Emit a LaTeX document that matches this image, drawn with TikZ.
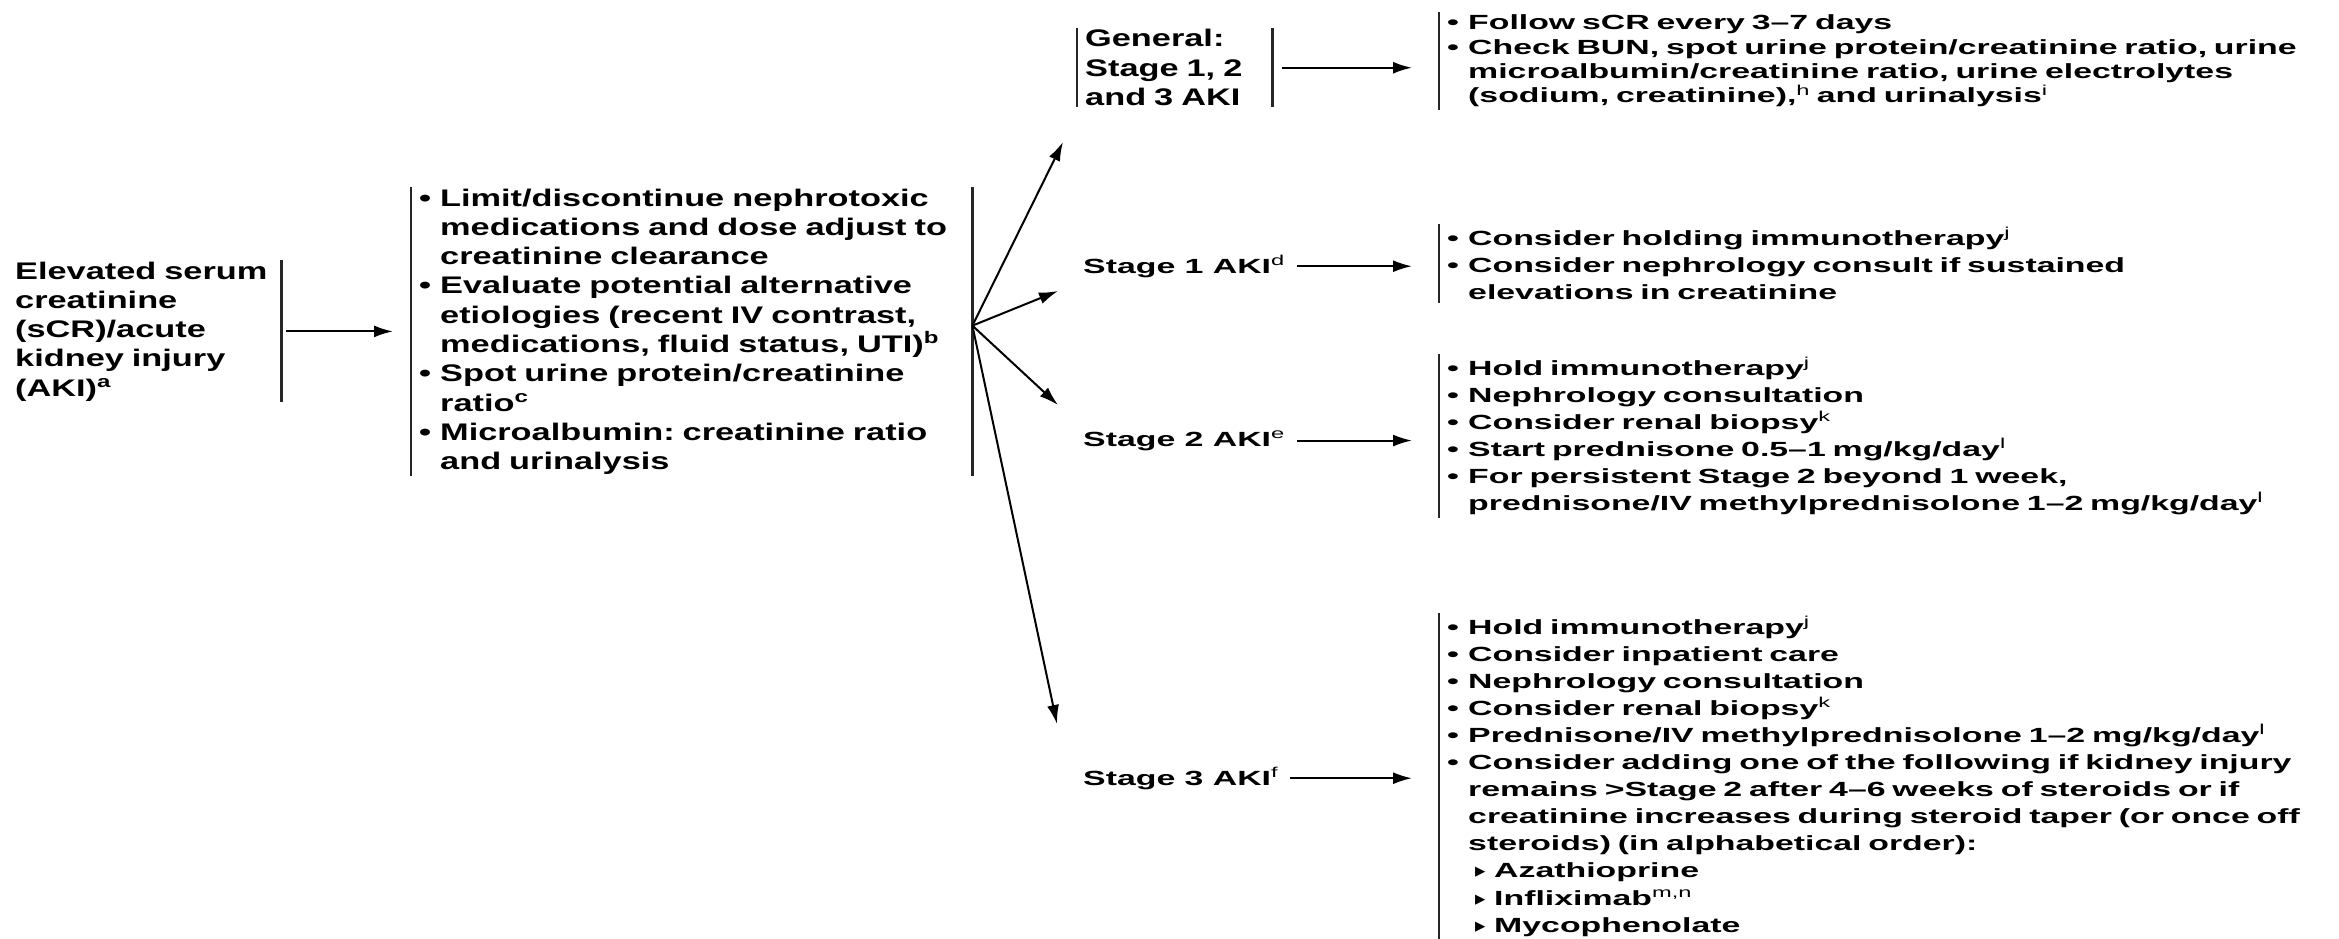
\documentclass[tikz,border=0pt]{standalone}
\usepackage{fontspec}
\setmainfont{Liberation Sans}
\newfontfamily\heavyfont{Liberation Sans}[FakeStretch=1.43]
\newfontfamily\listfont{Liberation Sans}[FakeStretch=1.65]
\newfontfamily\symfont{DejaVu Sans}
\usetikzlibrary{arrows.meta}
\frenchspacing
\newcommand\bul{\hangindent=21pt\hangafter=1\leavevmode\makebox[21pt][l]{\textbullet}}
\newcommand\tri{\hangindent=47pt\hangafter=1\leavevmode\hspace*{28pt}\makebox[19pt][l]{\symfont ▸}}
\newcommand\sups[1]{\textsuperscript{\mdseries #1}}
\tikzset{heavy/.style={font=\heavyfont\bfseries\fontsize{24pt}{29.3pt}\selectfont,anchor=base west,inner xsep=8pt,inner ysep=1pt},
listbox/.style={font=\listfont\bfseries\fontsize{20.5pt}{27.1pt}\selectfont,anchor=base west,inner xsep=8pt,inner ysep=3pt,text width=900pt},
stage/.style={font=\listfont\bfseries\fontsize{20.5pt}{24pt}\selectfont,anchor=base west,inner sep=0pt},
bar/.style={line width=2.5pt,black!85},line/.style={-{Latex[length=19pt,width=12pt]},line width=2pt}}

\begin{document}
\begin{tikzpicture}[x=1pt,y=-1pt]
\useasboundingbox (0,0) rectangle (2339,939);
% left column
\node[heavy, text width=258pt] (src) at (7,279) {Elevated serum\newline creatinine\newline (sCR)/acute\newline kidney injury\newline (AKI)\textsuperscript{a}\par};
\node[heavy, text width=545pt] (mid) at (411,206) {\bul Limit/discontinue nephrotoxic\newline medications and dose adjust to\newline creatinine clearance\par
\bul Evaluate potential alternative\newline etiologies (recent IV contrast,\newline medications, fluid status, UTI)\textsuperscript{b}\par
\bul Spot urine protein/creatinine\newline ratio\textsuperscript{c}\par
\bul Microalbumin: creatinine ratio\newline and urinalysis\par};
% stages
\node[heavy, text width=179pt] (gen) at (1077,47) {General:\newline Stage 1, 2\newline and 3 AKI\par};
\node[stage] (s1) at (1083,273) {Stage 1 AKI\sups{d}};
\node[stage] (s2) at (1083,446) {Stage 2 AKI\sups{e}};
\node[stage] (s3) at (1083,785) {Stage 3 AKI\sups{f}};
% actions
\node[listbox, font=\listfont\bfseries\fontsize{20.5pt}{24.3pt}\selectfont] (genlist) at (1439,30) {\bul Follow sCR every 3–7 days\par
\bul Check BUN, spot urine protein/creatinine ratio, urine\newline microalbumin/creatinine ratio, urine electrolytes\newline (sodium, creatinine),\sups{h} and urinalysis\sups{i}\par};
\node[listbox] (l1) at (1439,245) {\bul Consider holding immunotherapy\sups{j}\par
\bul Consider nephrology consult if sustained\newline elevations in creatinine\par};
\node[listbox] (l2) at (1439,375) {\bul Hold immunotherapy\sups{j}\par
\bul Nephrology consultation\par
\bul Consider renal biopsy\sups{k}\par
\bul Start prednisone 0.5–1 mg/kg/day\sups{l}\par
\bul For persistent Stage 2 beyond 1 week,\newline prednisone/IV methylprednisolone 1–2 mg/kg/day\sups{l}\par};
\node[listbox] (l3) at (1439,634) {\bul Hold immunotherapy\sups{j}\par
\bul Consider inpatient care\par
\bul Nephrology consultation\par
\bul Consider renal biopsy\sups{k}\par
\bul Prednisone/IV methylprednisolone 1–2 mg/kg/day\sups{l}\par
\bul Consider adding one of the following if kidney injury\newline remains >Stage 2 after 4–6 weeks of steroids or if\newline creatinine increases during steroid taper (or once off\newline steroids) (in alphabetical order):\par
\tri Azathioprine\par
\tri Infliximab\sups{m,n}\par
\tri Mycophenolate\par};
% bars
\draw[bar] (src.north east) -- (src.south east);
\foreach \n in {mid,gen} {
  \draw[bar] (\n.north west) -- (\n.south west);
  \draw[bar] (\n.north east) -- (\n.south east);
}
\foreach \n in {genlist,l1,l2,l3}
  \draw[bar] (\n.north west) -- (\n.south west);
% arrows
\coordinate (fan) at ([yshift=6pt]mid.east);
\coordinate (tipgen) at (1063,142);
\coordinate (tip1) at (1058,291);
\coordinate (tip2) at (1058,405);
\coordinate (tip3) at (1057,724);
\draw[line, shorten <=5pt, shorten >=18pt] (src.east) -- (src.east -| mid.west);
\foreach \t in {tipgen,tip1,tip2,tip3}
  \draw[line] (fan) -- (\t);
\draw[line, shorten <=10pt, shorten >=27pt] (gen.east) -- (gen.east -| genlist.west);
\foreach \s/\l in {s1/l1,s2/l2,s3/l3}
  \draw[line, shorten <=12pt, shorten >=27pt] (\s.east) -- (\s.east -| \l.west);
\end{tikzpicture}
\end{document}
